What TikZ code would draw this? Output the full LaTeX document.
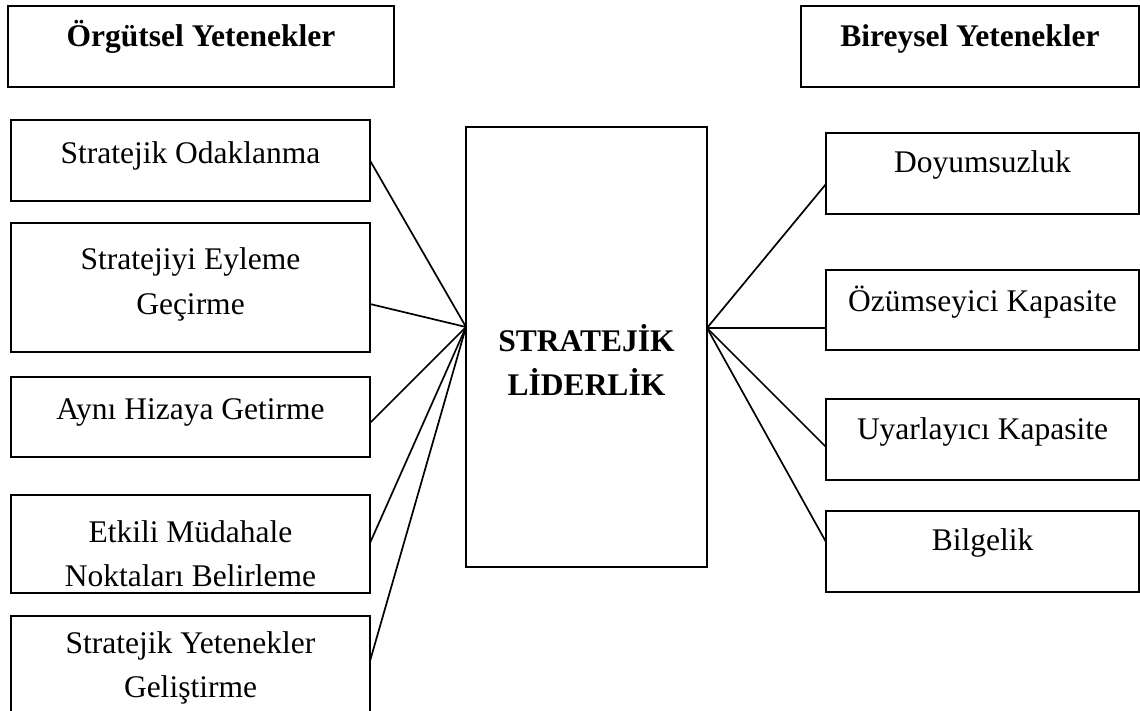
\documentclass[tikz,border=0pt]{standalone}
\usepackage{fontspec}
\setmainfont{Liberation Serif}
\usetikzlibrary{calc}
\tikzset{
  box/.style={draw=black, line width=2pt, rectangle, inner sep=0pt, outer sep=0pt},
  lbl/.style={font=\fontsize{31.5}{44}\selectfont, anchor=base, inner sep=0pt, align=center},
  hdr/.style={lbl, font=\fontsize{31.5}{44}\selectfont\bfseries},
  link/.style={draw=black, line width=1.7pt}
}
\newcommand\mybox[5]{%
  \node[box, minimum width={(#4-#2)*1pt}, minimum height={(#5-#3)*1pt}] (#1) at ({(#2+#4)/2},{(#3+#5)/2}) {};}
\begin{document}
\begin{tikzpicture}[x=1pt,y=-1pt]
\useasboundingbox (0,0) rectangle (1140,711);
% header boxes
\mybox{hl}{8}{6}{394}{87}
\mybox{hr}{801}{6}{1139}{87}
\node[hdr] (thl) at (201,47) {Örgütsel Yetenekler};
\node[hdr] (thr) at (970,47) {Bireysel Yetenekler};
% left boxes
\mybox{l1}{11}{120}{370}{201}
\mybox{l2}{11}{223}{370}{352}
\mybox{l3}{11}{377}{370}{457}
\mybox{l4}{11}{495}{370}{593}
\mybox{l5}{11}{616}{370}{720}
\node[lbl] (tl1) at (190.5,164) {Stratejik Odaklanma};
\node[lbl] (tl2) at (190.5,314) {Stratejiyi Eyleme\\Geçirme};
\node[lbl] (tl3) at (190.5,419) {Aynı Hizaya Getirme};
\node[lbl] (tl4) at (190.5,586) {Etkili Müdahale\\Noktaları Belirleme};
\node[lbl] (tl5) at (190.5,697) {Stratejik Yetenekler\\Geliştirme};
% center box
\mybox{c}{466}{127}{707}{567}
\node[hdr] (tc) at (586.5,395) {STRATEJİK\\LİDERLİK};
\coordinate (cl) at (466,327);
\coordinate (cr) at (707,328);
% right boxes
\mybox{r1}{826}{133}{1139}{214}
\mybox{r2}{826}{270}{1139}{350}
\mybox{r3}{826}{399}{1139}{480}
\mybox{r4}{826}{511}{1139}{592}
\node[lbl] (tr1) at (982.5,173) {Doyumsuzluk};
\node[lbl] (tr2) at (982.5,311) {Özümseyici Kapasite};
\node[lbl] (tr3) at (982.5,439) {Uyarlayıcı Kapasite};
\node[lbl] (tr4) at (982.5,550) {Bilgelik};
% connectors
\draw[link] (l1.east) -- (cl);
\draw[link] ([yshift=-16.5pt]l2.east) -- (cl);
\draw[link] ([yshift=-6pt]l3.east) -- (cl);
\draw[link] ([yshift=1pt]l4.east) -- (cl);
\draw[link] ([yshift=7pt]l5.east) -- (cl);
\draw[link] (cr) -- ([yshift=-10.5pt]r1.west);
\draw[link] (cr) -- ([yshift=-18pt]r2.west);
\draw[link] (cr) -- ([yshift=-7.5pt]r3.west);
\draw[link] (cr) -- ([yshift=9.5pt]r4.west);
\end{tikzpicture}
\end{document}
